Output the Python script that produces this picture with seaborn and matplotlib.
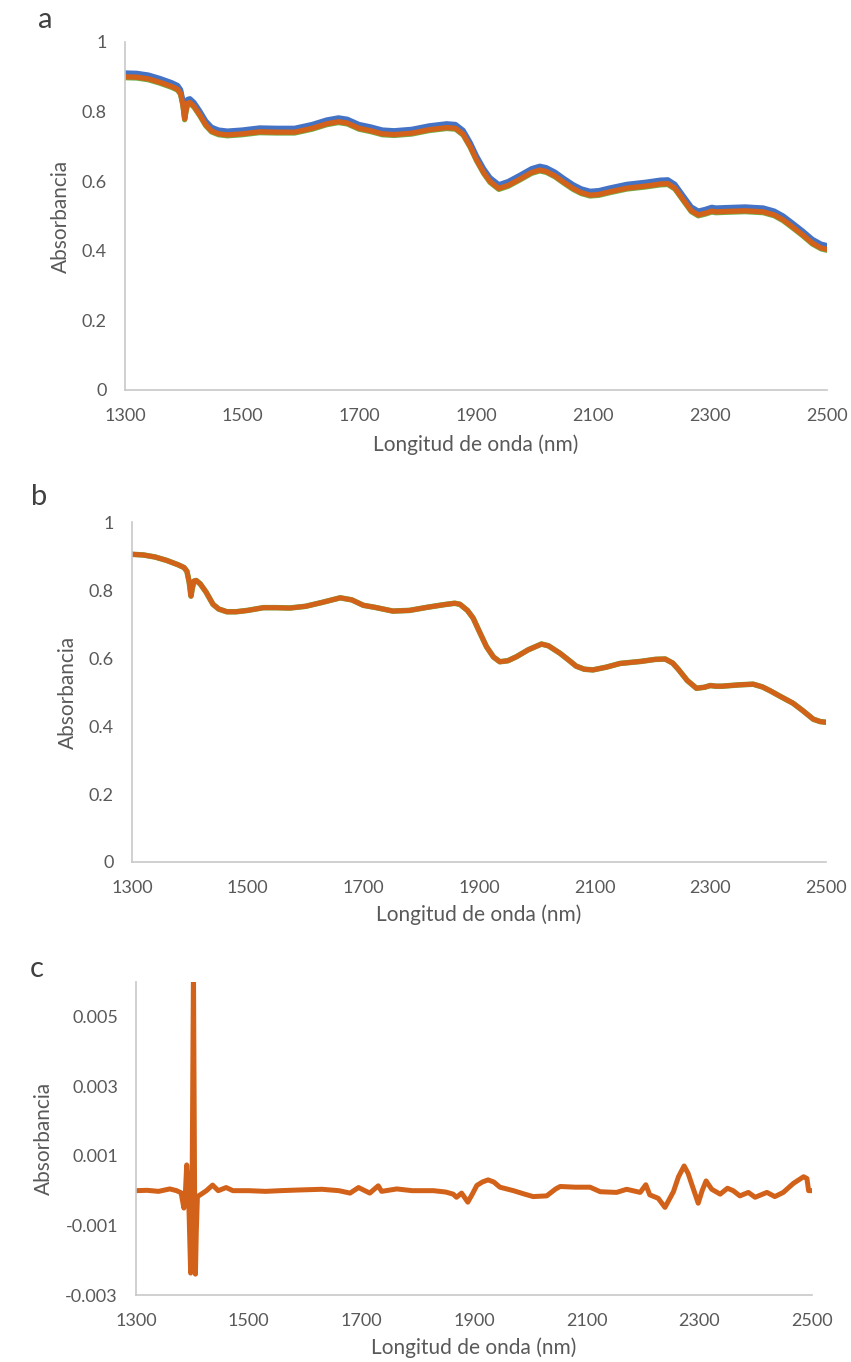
import numpy as np
import pandas as pd
import matplotlib
matplotlib.use("Agg")
import matplotlib.pyplot as plt
from matplotlib.ticker import FuncFormatter
import seaborn as sns

# ---- Raw NIR spectra (panel a): reference sample, absorbance vs wavelength ----
raw_wl = [1300, 1320, 1340, 1360, 1380, 1390, 1395, 1399, 1402, 1404, 1407, 1411,
          1418, 1428, 1438, 1448, 1460, 1475, 1500, 1530, 1560, 1590, 1620, 1645,
          1665, 1680, 1700, 1720, 1740, 1760, 1790, 1820, 1850, 1865, 1878, 1890,
          1901, 1913, 1924, 1939, 1955, 1975, 1995, 2009, 2020, 2035, 2050, 2066,
          2080, 2095, 2110, 2130, 2158, 2190, 2215, 2228, 2240, 2255, 2268, 2280,
          2292, 2303, 2310, 2325, 2360, 2391, 2410, 2425, 2440, 2459, 2475, 2490, 2500]
raw_abs = [0.900, 0.899, 0.894, 0.884, 0.872, 0.864, 0.852, 0.820, 0.779, 0.800, 0.824, 0.826,
           0.815, 0.790, 0.762, 0.744, 0.736, 0.733, 0.736, 0.742, 0.741, 0.741, 0.752, 0.765,
           0.771, 0.767, 0.752, 0.745, 0.736, 0.734, 0.738, 0.748, 0.754, 0.752, 0.735, 0.700,
           0.661, 0.625, 0.599, 0.579, 0.588, 0.606, 0.625, 0.632, 0.628, 0.615, 0.597, 0.579,
           0.567, 0.560, 0.562, 0.570, 0.580, 0.586, 0.592, 0.593, 0.580, 0.545, 0.515, 0.503,
           0.508, 0.514, 0.512, 0.513, 0.515, 0.512, 0.503, 0.489, 0.470, 0.445, 0.422, 0.408, 0.404]
# baseline shift of each replicate relative to the reference sample (drawing order)
raw_samples = ["S2", "S3", "S1", "S4"]
raw_offsets = [0.006, -0.0025, 0.011, 0.0]

# ---- Corrected spectra (panel b) ----
cor_wl = [1300, 1320, 1340, 1360, 1380, 1390, 1395, 1399, 1402, 1404, 1407, 1411,
          1418, 1428, 1440, 1450, 1464, 1480, 1500, 1527, 1550, 1573, 1600, 1630,
          1660, 1680, 1700, 1720, 1751, 1780, 1810, 1840, 1858, 1867, 1880, 1890,
          1900, 1913, 1925, 1936, 1950, 1965, 1985, 2008, 2020, 2040, 2055, 2068,
          2082, 2097, 2120, 2144, 2180, 2205, 2222, 2235, 2245, 2260, 2276, 2290,
          2300, 2310, 2320, 2350, 2374, 2390, 2403, 2420, 2443, 2460, 2478, 2490, 2500]
cor_abs = [0.905, 0.903, 0.897, 0.887, 0.874, 0.866, 0.855, 0.822, 0.782, 0.803, 0.826, 0.828,
           0.818, 0.794, 0.758, 0.744, 0.736, 0.736, 0.740, 0.748, 0.748, 0.747, 0.752, 0.764,
           0.777, 0.771, 0.755, 0.749, 0.738, 0.740, 0.749, 0.757, 0.761, 0.758, 0.740, 0.717,
           0.680, 0.633, 0.603, 0.589, 0.592, 0.604, 0.624, 0.641, 0.636, 0.614, 0.594, 0.576,
           0.567, 0.565, 0.573, 0.584, 0.590, 0.596, 0.597, 0.585, 0.566, 0.534, 0.511, 0.514,
           0.519, 0.517, 0.517, 0.521, 0.523, 0.515, 0.504, 0.488, 0.467, 0.445, 0.420, 0.413, 0.411]

# ---- Residual spectrum (panel c) ----
res_wl = [1300, 1320, 1340, 1360, 1372, 1380, 1385, 1387, 1390, 1392, 1394, 1397,
          1399, 1402, 1404, 1405.5, 1407, 1409, 1414, 1425, 1436, 1446, 1460, 1472,
          1500, 1530, 1556, 1590, 1630, 1660, 1680, 1695, 1715, 1730, 1736, 1763,
          1790, 1828, 1850, 1863, 1869, 1878, 1889, 1897, 1905, 1915, 1925, 1935,
          1946, 1970, 1990, 2005, 2029, 2045, 2053, 2080, 2106, 2124, 2153, 2171,
          2195, 2205, 2212, 2227, 2239, 2254, 2263, 2273, 2280, 2286, 2298, 2305,
          2312, 2322, 2337, 2350, 2360, 2372, 2387, 2399, 2420, 2434, 2449, 2467,
          2485, 2491, 2494, 2500]
res_abs = [0.0, 0.00001, -0.00002, 0.00005, 0.0, -0.00006, -0.0005, -0.0003, 0.00074, 0.0003, -0.0005, -0.00237,
           -0.0015, 0.0064, 0.0, -0.0024, -0.0012, -0.00017, -0.00012, 0.0, 0.00016, 0.0, 0.00009, 0.0,
           0.0, -0.00002, 0.0, 0.00002, 0.00004, 0.0, -0.00007, 0.00009, -0.00007, 0.00014, -0.00002, 0.00005,
           0.0, 0.0, -0.00004, -0.0001, -0.00019, -0.00007, -0.00033, -0.0001, 0.00015, 0.00025, 0.00031, 0.00025,
           0.0001, 0.0, -0.0001, -0.00017, -0.00015, 0.00005, 0.00012, 0.0001, 0.0001, -0.00003, -0.00005, 0.00004,
           -0.00005, 0.00017, -0.00012, -0.00022, -0.00048, -0.00003, 0.0004, 0.00071, 0.0005, 0.00021, -0.00036, 0.0,
           0.00028, 0.00004, -0.0001, 0.00007, 0.0, -0.00015, -0.00005, -0.00019, -0.00005, -0.00017, -0.00005, 0.00021,
           0.0004, 0.00035, 0.0, 0.0]

x_ticks = [1300, 1500, 1700, 1900, 2100, 2300, 2500]
abs_ticks = [0, 0.2, 0.4, 0.6, 0.8, 1]
res_ticks = [-0.003, -0.001, 0.001, 0.003, 0.005]

palette = {"S1": "#4472C4", "S2": "#8FA3C0", "S3": "#70AD47", "S4": "#D2621A"}
TXT = "#595959"
SPINE = "#c8c8c8"

sns.set_theme(style="white")
plt.rcParams["font.family"] = ["Lato", "DejaVu Sans"]

fig = plt.figure(figsize=(8.51, 13.62), dpi=100)
W, H = 851, 1362


def px_axes(left, top, right, bottom):
    return fig.add_axes([left / W, 1 - bottom / H, (right - left) / W, (bottom - top) / H])


ax_a = px_axes(125, 42, 827, 390)
ax_b = px_axes(132, 522, 826, 862)
ax_c = px_axes(136, 982, 812, 1295)

line_kw = dict(solid_joinstyle="round", solid_capstyle="round")

# panel a: raw replicates
rows = []
for s, off in zip(raw_samples, raw_offsets):
    for w, a in zip(raw_wl, raw_abs):
        rows.append((s, w, a + off))
df_a = pd.DataFrame(rows, columns=["sample", "wl", "abs"])
sns.lineplot(data=df_a, x="wl", y="abs", hue="sample", hue_order=raw_samples,
             palette=palette, lw=3.8, legend=False, estimator=None, ax=ax_a, **line_kw)

# panel b: corrected
df_b = pd.DataFrame({"wl": cor_wl, "abs": cor_abs})
sns.lineplot(data=df_b, x="wl", y="abs", color="#70AD47", lw=4.0, ax=ax_b, estimator=None, **line_kw)
sns.lineplot(data=df_b, x="wl", y="abs", color=palette["S4"], lw=3.6, ax=ax_b, estimator=None, **line_kw)

# panel c: residuals
df_c = pd.DataFrame({"wl": res_wl, "abs": res_abs})
sns.lineplot(data=df_c, x="wl", y="abs", color=palette["S4"], lw=3.6, ax=ax_c, estimator=None, **line_kw)

fmt = FuncFormatter(lambda v, p: f"{v:g}")

for ax, ticks, lims in [(ax_a, abs_ticks, (0, 1)), (ax_b, abs_ticks, (0, 1)),
                        (ax_c, res_ticks, (-0.003, 0.006))]:
    ax.set_xlim(1300, 2500)
    ax.set_ylim(*lims)
    ax.set_xticks(x_ticks)
    ax.set_yticks(ticks)
    ax.yaxis.set_major_formatter(fmt)
    ax.tick_params(axis="both", length=0, labelsize=13, labelcolor=TXT)
    ax.tick_params(axis="x", pad=13)
    ax.tick_params(axis="y", pad=13)
    for side in ["top", "right"]:
        ax.spines[side].set_visible(False)
    for side in ["left", "bottom"]:
        ax.spines[side].set_color(SPINE)
        ax.spines[side].set_linewidth(1.2)
    ax.grid(False)
    ax.set_xlabel("Longitud de onda (nm)", fontsize=15, color=TXT)
    ax.set_ylabel("Absorbancia", fontsize=15, color=TXT)
    ax.xaxis.label.set_verticalalignment("center")

ax_a.xaxis.set_label_coords(0.5, -(445 - 390) / 348)
ax_b.xaxis.set_label_coords(0.5, -(915 - 862) / 340)
ax_c.xaxis.set_label_coords(0.5, -(1348 - 1295) / 313)
ax_a.yaxis.set_label_coords((71 - 125) / 702, 0.5)
ax_b.yaxis.set_label_coords((78 - 132) / 694, 0.5)
ax_c.yaxis.set_label_coords((54 - 136) / 676, 0.5)

for letter, x, y in [("a", 38, 28), ("b", 31, 505), ("c", 30, 977)]:
    fig.text(x / W, 1 - y / H, letter, fontsize=21, color="#404040", va="baseline", ha="left")

fig.savefig("out.png", dpi=100, facecolor="white")
